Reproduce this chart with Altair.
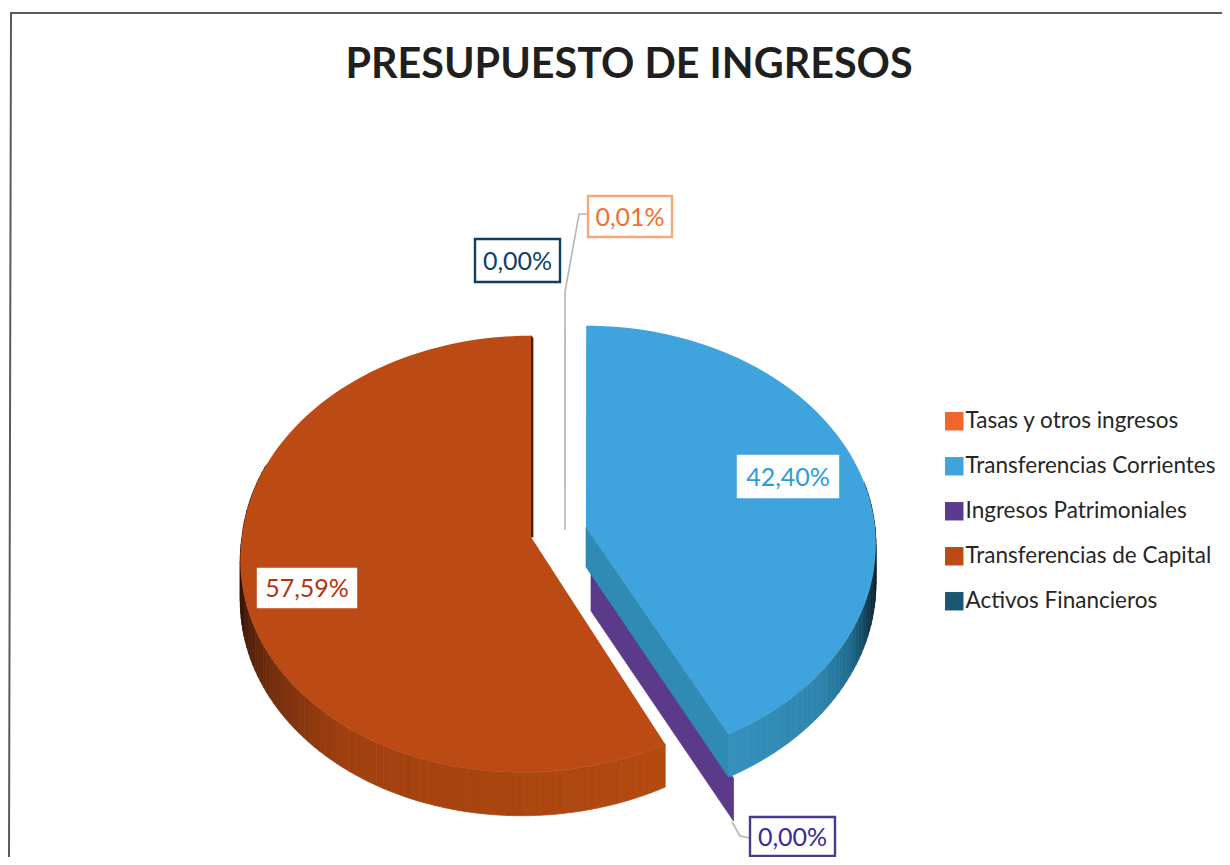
import math
import altair as alt
import pandas as pd

# ---- values
categories = ["Tasas y otros ingresos", "Transferencias Corrientes", "Ingresos Patrimoniales",
              "Transferencias de Capital", "Activos Financieros"]
shares = [0.01, 42.40, 0.00, 57.59, 0.00]
label_texts = ["0,01%", "42,40%", "0,00%", "57,59%", "0,00%"]
title_text = "PRESUPUESTO DE INGRESOS"

# ---- styling / layout (page pixels)
colors = ["#F0652B", "#3FA3DD", "#5A3A8E", "#BC4A14", "#1B5673"]
label_colors = ["#F2702F", "#2E9ADB", "#3A2A96", "#B5320F", "#123F66"]
apex = [(565, 530), (586, 527), (591, 571), (531, 537), (560, 530)]
lean = [0, 0, 0, 0.04, 0]
RX, RY, K, DEPTH = 289, 217, 0.078, 40
boxes = [(588, 196, 672, 237), (738, 456, 838, 497), (750, 817, 835, 856),
         (258, 569, 356, 607), (475, 239, 560, 282)]
box_strokes = ["#F6A878", None, "#4A3A8E", None, "#123F60"]

rim_stops = {
    1: [(152, "#3590BC"), (130, "#2E85AD"), (118, "#1F6A8A"), (108, "#0F3A50"), (98, "#0A1E28"), (78, "#0A1E28")],
    3: [(152, "#B44A10"), (215, "#A0400F"), (240, "#6E2C0D"), (258, "#3A1608"), (290, "#200C05")],
}


def proj(theta, i, drop=0):
    z, xx = math.cos(math.radians(theta)), math.sin(math.radians(theta))
    s = 1 / (1 + K * z)
    cx, cy = apex[i]
    dy = -RY * z * s
    x = cx + RX * xx * s - lean[i] * max(dy, 0)
    return x, cy + dy + drop * s


def mix(stops, t):
    lo, hi = min(s[0] for s in stops), max(s[0] for s in stops)
    t = min(max(t, lo), hi)
    ss = sorted(stops)
    for (a, ca), (b, cb) in zip(ss, ss[1:]):
        if a <= t <= b:
            f = (t - a) / (b - a)
            ch = [round(int(ca[j:j + 2], 16) * (1 - f) + int(cb[j:j + 2], 16) * f) for j in (1, 3, 5)]
            return "#%02x%02x%02x" % tuple(ch)
    return ss[-1][1]


# slice angles from the shares, clockwise from 12 o'clock
starts, acc = [], 0.0
for v in shares:
    starts.append(acc)
    acc += v * 3.6
ends = [s + v * 3.6 for s, v in zip(starts, shares)]

walls, faces = [], []


def poly(rows, name, pts, fill):
    for n, (x, y) in enumerate(list(pts) + [pts[0]]):
        rows.append({"part": name, "o": n, "x": x, "y": y, "fill": fill})


# radial walls
poly(walls, "wall-purple", [apex[2], proj(ends[2], 2), proj(ends[2], 2, DEPTH), (apex[2][0], apex[2][1] + DEPTH)], "#5B3A8A")
poly(walls, "wall-blue", [apex[1], proj(ends[1], 1), proj(ends[1], 1, DEPTH), (apex[1][0], apex[1][1] + DEPTH)], "#2F8AB4")
poly(walls, "edge-brown", [proj(360, 3), (apex[3][0] + 2, apex[3][1] - 199), (apex[3][0] + 2, apex[3][1]), apex[3]], "#4A1D08")

# outer rims, shaded section by section
for i in (1, 3):
    step = 1.5
    lo, hi = (78, ends[1]) if i == 1 else (starts[3], 290)
    t = lo
    while t < hi:
        u = min(t + step, hi)
        poly(walls, f"rim{i}-{t:.1f}", [proj(t, i), proj(u, i), proj(u, i, DEPTH), proj(t, i, DEPTH)],
             mix(rim_stops[i], (t + u) / 2))
        t = u

# top faces
for i, c in enumerate(categories):
    n = max(2, int((ends[i] - starts[i]) / 2))
    pts = [apex[i]] + [proj(starts[i] + (ends[i] - starts[i]) * j / n, i) for j in range(n + 1)]
    poly(faces, c, pts, c)

walls_df = pd.DataFrame(walls)
faces_df = pd.DataFrame(faces).rename(columns={"fill": "categoria"})
boxes_df = pd.DataFrame([
    {"x": b[0], "y": b[1], "x2": b[2], "y2": b[3], "stroke": s or "#ffffff", "tx": (b[0] + b[2]) / 2,
     "ty": (b[1] + b[3]) / 2, "t": t, "c": lc}
    for b, s, t, lc in zip(boxes, box_strokes, label_texts, label_colors)
])
frame_df = pd.DataFrame({"o": [0, 1, 2], "x": [1222, 11, 9], "y": [13, 13, 857]})
leaders_df = pd.DataFrame([
    {"part": "a", "o": 0, "x": 565, "y": 530}, {"part": "a", "o": 1, "x": 565, "y": 292},
    {"part": "a", "o": 2, "x": 579, "y": 214}, {"part": "a", "o": 3, "x": 588, "y": 214},
    {"part": "b", "o": 0, "x": 732, "y": 822}, {"part": "b", "o": 1, "x": 740, "y": 836},
    {"part": "b", "o": 2, "x": 750, "y": 838},
])

SX = alt.Scale(domain=[8, 1222], nice=False, zero=False)
SY = alt.Scale(domain=[857, 8], nice=False, zero=False)
X = alt.X("x:Q", scale=SX, axis=None)
Y = alt.Y("y:Q", scale=SY, axis=None)

frame = alt.Chart(frame_df).mark_line(color="#5a5a5a", strokeWidth=2, clip=False).encode(x=X, y=Y, order="o:Q")
leaders = alt.Chart(leaders_df).mark_line(color="#b5b5b5", strokeWidth=1.6).encode(x=X, y=Y, order="o:Q", detail="part:N")
wall_layer = alt.Chart(walls_df).mark_line(strokeWidth=0.7, fill="#000000").encode(
    x=X, y=Y, order="o:Q", detail="part:N",
    fill=alt.Fill("fill:N", scale=None), stroke=alt.Stroke("fill:N", scale=None))
face_layer = alt.Chart(faces_df).mark_line(strokeWidth=0, fill="#000000").encode(
    x=X, y=Y, order="o:Q", detail="part:N",
    fill=alt.Fill("categoria:N", scale=alt.Scale(domain=categories, range=colors), title=None,
                  legend=alt.Legend(orient="none", legendX=935, legendY=402, title=None, symbolType="square",
                                    symbolSize=340, symbolStrokeWidth=0, labelFont="Lato", labelFontSize=22.5,
                                    labelColor="#262626", labelOffset=0, rowPadding=22, padding=0, labelLimit=300,
                                    values=categories, symbolOpacity=1)))
box_layer = alt.Chart(boxes_df).mark_rect(fill="#ffffff", strokeWidth=2.4).encode(
    x=X, y=Y, x2="x2:Q", y2="y2:Q", stroke=alt.Stroke("stroke:N", scale=None))
text_layer = alt.Chart(boxes_df).mark_text(font="Lato", fontSize=25, baseline="middle", align="center", dy=1).encode(
    x=alt.X("tx:Q", scale=SX, axis=None), y=alt.Y("ty:Q", scale=SY, axis=None),
    text="t:N", color=alt.Color("c:N", scale=None))

chart = alt.layer(frame, leaders, wall_layer, face_layer, box_layer, text_layer).properties(
    width=1214, height=849, padding=0,
    autosize=alt.AutoSizeParams(type="none"),
    title=alt.TitleParams(title_text, font="Lato", fontWeight="bold", fontSize=41.3, color="#1f1f1f",
                          anchor="middle", dx=14, dy=41, offset=-70, baseline="alphabetic"),
).configure_view(stroke=None)

chart.save("out.html", embed_options={"renderer": "svg", "actions": False})
